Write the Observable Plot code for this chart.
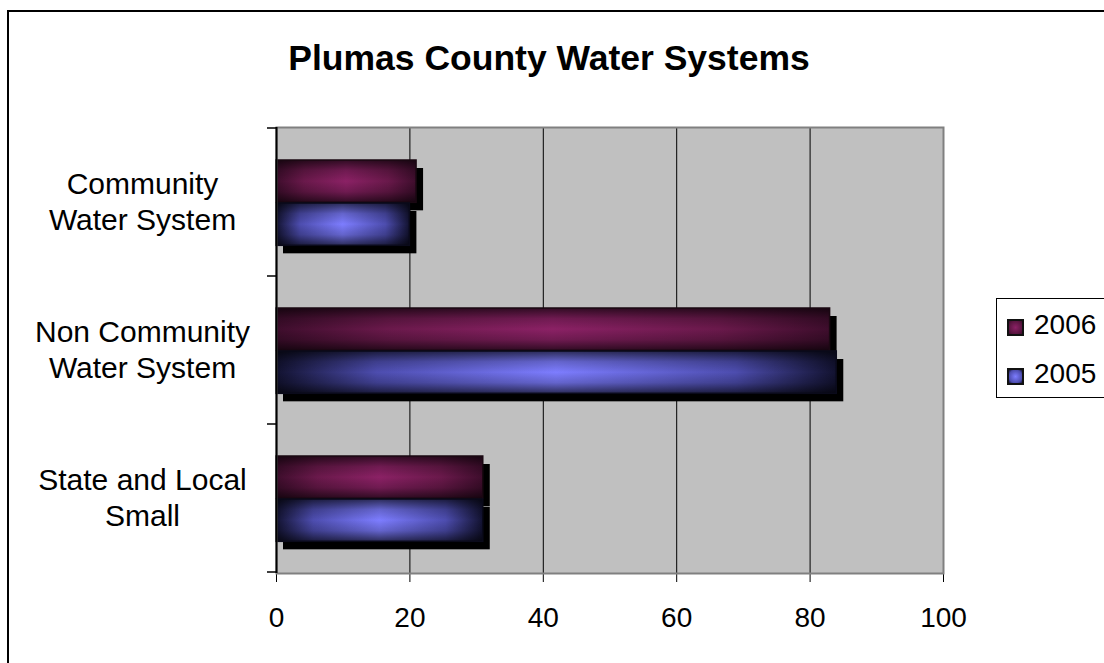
<!DOCTYPE html>
<html><head><meta charset="utf-8">
<script src="https://cdn.jsdelivr.net/npm/d3@7"></script>
<script src="https://cdn.jsdelivr.net/npm/@observablehq/plot@0.6"></script>
<style>
html,body{margin:0;padding:0;background:#fff;overflow:hidden;}
#wrap{position:relative;width:1104px;height:663px;overflow:hidden;font-family:"Liberation Sans",Arial,sans-serif;color:#000;}
#wrap svg{position:absolute;left:0;top:0;}
#border{position:absolute;left:7px;top:10px;width:1300px;height:900px;border:2px solid #000;box-sizing:border-box;}
#title{position:absolute;left:0;width:1098px;top:40px;text-align:center;font-weight:bold;font-size:35.5px;line-height:36px;}
#legend{position:absolute;left:996px;top:298px;width:140px;height:100px;border:1.5px solid #000;box-sizing:border-box;background:#fff;}
.li{position:absolute;left:0;font-size:28px;line-height:28px;}
.sw{position:absolute;width:17px;height:17px;box-sizing:border-box;border:2px solid #111;}
</style>
</head><body>
<div id="wrap">
  <div id="chart"></div>
  <div id="border"></div>
  <div id="title">Plumas County Water Systems</div>
  <div id="legend"></div>
</div>
<script>
// ---- data ----
const categories = ["Community Water System", "Non Community Water System", "State and Local Small"];
const categoryLabels = ["Community\nWater System", "Non Community\nWater System", "State and Local\nSmall"];
const years = ["2006", "2005"];
const values2006 = [21, 83, 31];
const values2005 = [20, 84, 31];
const xTicks = [0, 20, 40, 60, 80, 100];
const gridTicks = [20, 40, 60, 80];

const rows2006 = categories.map((c, i) => ({category: c, value: values2006[i], year: "2006"}));
const rows2005 = categories.map((c, i) => ({category: c, value: values2005[i], year: "2005"}));

const ins2006 = {insetTop: 32, insetBottom: 73.67};
const ins2005 = {insetTop: 75, insetBottom: 30.67};

const chart = Plot.plot({
  width: 1104, height: 663,
  marginLeft: 276, marginRight: 161, marginTop: 127, marginBottom: 90,
  style: {background: "transparent", fontFamily: "Liberation Sans, Arial, sans-serif", fontSize: "28px", color: "#000", overflow: "visible"},
  x: {domain: [0, 100], ticks: xTicks, tickSize: 9, tickPadding: 25, line: true, label: null},
  y: {domain: categories, padding: 0, axis: null},
  marks: [
    Plot.frame({fill: "#c0c0c0"}),
    Plot.ruleX(gridTicks, {stroke: "#000", strokeWidth: 1}),
    Plot.barX(rows2006, {x: "value", y: "category", dx: 7, dy: 8, fill: "#000", ...ins2006}),
    Plot.barX(rows2005, {x: "value", y: "category", dx: 7, dy: 8, fill: "#000", ...ins2005}),
    Plot.barX(rows2006, {x: "value", y: "category", fill: "url(#g2006)", ...ins2006}),
    Plot.barX(rows2006, {x: "value", y: "category", fill: "url(#vshade)", stroke: "#1a0812", strokeWidth: 1.5, ...ins2006}),
    Plot.barX(rows2005, {x: "value", y: "category", fill: "url(#g2005)", ...ins2005}),
    Plot.barX(rows2005, {x: "value", y: "category", fill: "url(#vshade)", stroke: "#0a0a1a", strokeWidth: 1.5, ...ins2005}),
    Plot.frame({stroke: "#808080", strokeWidth: 2}),
    Plot.ruleX([0], {stroke: "#000", strokeWidth: 2}),
    Plot.text(categories, {y: d => d, text: (d, i) => categoryLabels[i], frameAnchor: "left", dx: -134, dy: -2,
      textAnchor: "middle", fontSize: 30, lineHeight: 1.2, fill: "#000"})
  ]
});
document.getElementById("chart").appendChild(chart);

// gradients
const svg = d3.select(chart);
const defs = svg.insert("defs", ":first-child");
function hgrad(id, stops) {
  const g = defs.append("linearGradient").attr("id", id).attr("x1", 0).attr("y1", 0).attr("x2", 1).attr("y2", 0);
  stops.forEach(([o, c]) => g.append("stop").attr("offset", o).attr("stop-color", c));
}
hgrad("g2006", [[0, "#3e0d2c"], [0.2, "#6a194b"], [0.5, "#8b2165"], [0.8, "#6a194b"], [1, "#3e0d2c"]]);
hgrad("g2005", [[0, "#121230"], [0.18, "#4d4daf"], [0.5, "#7d7dff"], [0.82, "#4d4daf"], [1, "#121230"]]);
const vg = defs.append("linearGradient").attr("id", "vshade").attr("x1", 0).attr("y1", 0).attr("x2", 0).attr("y2", 1);
[[0, 0.65], [0.25, 0.2], [0.5, 0], [0.75, 0.2], [1, 0.65]].forEach(([o, a]) =>
  vg.append("stop").attr("offset", o).attr("stop-color", "#000").attr("stop-opacity", a));

// category tick marks at band boundaries (Excel style)
const ys = chart.scale("y");
const xs = chart.scale("x");
const x0 = xs.apply(0);
const edges = categories.map(c => ys.apply(c));
edges.push(ys.apply(categories[categories.length - 1]) + ys.bandwidth);
const tg = svg.append("g");
edges.forEach(e => tg.append("line").attr("x1", x0 - 9).attr("x2", x0).attr("y1", e).attr("y2", e)
  .attr("stroke", "#000").attr("stroke-width", 1.5));

// legend
const legend = document.getElementById("legend");
const swatchBg = {
  "2006": "radial-gradient(circle, #8b2165 0%, #5a1540 70%, #3a0c29 100%)",
  "2005": "radial-gradient(circle, #7d7dff 0%, #4d4daf 70%, #121230 100%)"
};
years.forEach((yr, i) => {
  const sw = document.createElement("div");
  sw.className = "sw";
  sw.style.left = "10px";
  sw.style.top = (20 + i * 48.5) + "px";
  sw.style.background = swatchBg[yr];
  legend.appendChild(sw);
  const t = document.createElement("div");
  t.className = "li";
  t.style.left = "37px";
  t.style.top = (12 + i * 48.5) + "px";
  t.textContent = yr;
  legend.appendChild(t);
});
</script>
</body></html>
